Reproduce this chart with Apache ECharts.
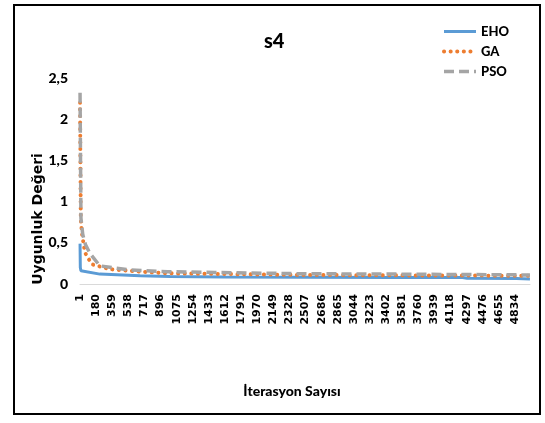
<!DOCTYPE html>
<html>
<head>
<meta charset="utf-8">
<script src="https://cdn.jsdelivr.net/npm/echarts@6/dist/echarts.min.js"></script>
<style>
html,body{margin:0;padding:0;background:#fff;}
#chart{width:545px;height:423px;}
</style>
</head>
<body>
<div id="chart"></div>
<script>
// Iteration count (categories 1..5000); labels shown every 179 iterations
const iterationCount = 5000;
const labelStep = 179;
const yTicks = [0, 0.5, 1, 1.5, 2, 2.5];

// Values read at key iterations: [iteration index (0-based), fitness value]
const ehoData = [[0,0.49],[3,0.2],[10,0.16],[220,0.12],[667,0.1],[1000,0.09],[1600,0.085],[2500,0.083],[3500,0.08],[4250,0.078],[4300,0.07],[4850,0.068],[4870,0.062],[4999,0.062]];
const gaData  = [[0,2.2],[8,0.8],[20,0.62],[55,0.38],[130,0.24],[330,0.18],[667,0.15],[970,0.13],[1700,0.12],[2450,0.11],[3500,0.105],[4999,0.1]];
const psoData = [[0,2.32],[10,0.8],[30,0.6],[60,0.48],[110,0.37],[220,0.22],[555,0.17],[970,0.15],[1500,0.14],[2450,0.125],[3500,0.12],[4999,0.11]];

const seriesNames = ['EHO','GA','PSO'];
const seriesColors = ['#5b9bd5','#ed7d31','#a5a5a5'];

const categories = [];
for (let i = 1; i <= iterationCount; i++) categories.push(String(i));

const calib = "Lato, 'Open Sans', sans-serif";

const styles = [
  {color: seriesColors[0], width: 3, type: 'solid'},
  {color: seriesColors[1], width: 4, type: [0.1, 6.5], cap: 'round'},
  {color: seriesColors[2], width: 3.5, type: [10, 5]}
];

const chart = echarts.init(document.getElementById('chart'), null, {renderer:'canvas'});
chart.setOption({
  animation: false,
  backgroundColor: '#fff',
  title: {
    text: 's4', left: 259, top: 27,
    textStyle: {fontFamily: calib, fontWeight: 900, fontSize: 20, color: '#000'}
  },
  legend: {
    orient: 'vertical', left: 437, top: 20,
    itemWidth: 32, itemHeight: 14, itemGap: 7,
    data: seriesNames.map((n, i) => ({name: n, lineStyle: styles[i]})),
    itemStyle: {color: 'rgba(0,0,0,0)', borderColor: 'rgba(0,0,0,0)', borderWidth: 0, opacity: 0},
    textStyle: {fontFamily: calib, fontWeight: 900, fontSize: 13, color: '#000'}
  },
  grid: {left: 80, right: 15, top: 78, bottom: 139, containLabel: false},
  xAxis: {
    type: 'category',
    data: categories,
    boundaryGap: true,
    axisLine: {show: true, lineStyle: {color: '#d9d9d9', width: 1}},
    axisTick: {show: false},
    axisLabel: {
      interval: labelStep - 1, rotate: 90, margin: 10,
      fontFamily: 'DejaVu Sans', fontWeight: 'bold', fontSize: 11, color: '#000'
    },
    splitLine: {show: false}
  },
  yAxis: {
    type: 'value', min: yTicks[0], max: yTicks[yTicks.length-1], interval: 0.5,
    axisLine: {show: false}, axisTick: {show: false},
    splitLine: {show: false},
    axisLabel: {
      margin: 12,
      fontFamily: calib, fontWeight: 900, fontSize: 14, color: '#000',
      formatter: v => String(v).replace('.', ',')
    }
  },
  graphic: [
    {type: 'rect', shape: {x: 14, y: 5, width: 526, height: 409}, style: {fill: 'none', stroke: '#000', lineWidth: 2}, silent: true, z: -1},
    {type: 'text', x: 38, y: 219, rotation: Math.PI/2,
     style: {text: 'Uygunluk Değeri', font: "bold 14px 'DejaVu Sans'", fill: '#000', align: 'center', verticalAlign: 'middle'}},
    {type: 'text', x: 292, y: 391,
     style: {text: 'İterasyon Sayısı', font: "900 14px " + calib, fill: '#000', align: 'center', verticalAlign: 'middle'}}
  ],
  series: seriesNames.map((n, i) => ({
    name: n, type: 'line',
    data: [ehoData, gaData, psoData][i],
    symbol: 'none', showSymbol: false,
    lineStyle: styles[i], itemStyle: {color: seriesColors[i]}, z: i + 1
  }))
});
</script>
</body>
</html>
